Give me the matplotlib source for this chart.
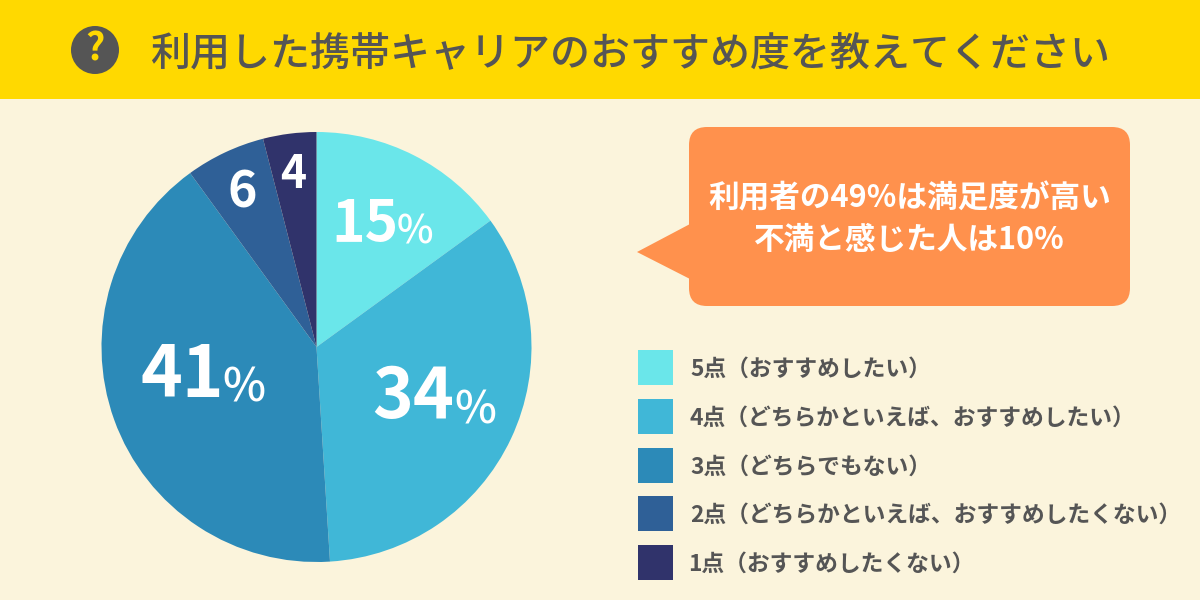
import matplotlib
matplotlib.use('Agg')
import matplotlib.pyplot as plt
from matplotlib.patches import Rectangle, FancyBboxPatch, Polygon, Circle

plt.rcParams['font.family'] = ['Noto Sans CJK JP', 'DejaVu Sans']

title = '利用した携帯キャリアのおすすめ度を教えてください'
note_lines = ['利用者の49%は満足度が高い', '不満と感じた人は10%']
values = [15, 34, 41, 6, 4]
labels = ['5点（おすすめしたい）',
          '4点（どちらかといえば、おすすめしたい）',
          '3点（どちらでもない）',
          '2点（どちらかといえば、おすすめしたくない）',
          '1点（おすすめしたくない）']
colors = ['#6ae6ea', '#40b7d7', '#2c8ab8', '#2f6097', '#30336b']

GREY = '#555555'
ORANGE = '#ff914d'

fig = plt.figure(figsize=(12, 6), dpi=100, facecolor='#fbf4dc')
ax = fig.add_axes([0, 0, 1, 1])


def yy(y):
    # picture y (from top) to axes y
    return 600 - y


ax.add_patch(Rectangle((0, yy(99)), 1200, 99, fc='#ffd900', ec='none'))
ax.add_patch(Circle((95, yy(50)), 24, fc=GREY, ec='none'))
ax.text(95, yy(49), '?', color='#ffd900', fontsize=27, fontweight='bold', ha='center', va='center')
ax.text(630, yy(54), title, color=GREY, fontsize=28.8, fontweight='medium', ha='center', va='center')

ax.pie(values, colors=colors, startangle=90, counterclock=False, radius=215,
       center=(316.5, yy(347)), frame=True, wedgeprops={'linewidth': 0})

# labels on the slices
pie_labels = [(331, 242, '15', 41, 397, 244, 28), (372, 418, '34', 50, 454, 424, 32),
              (141, 397, '41', 51, 222, 402, 33), (227, 207, '6', 36, None, None, 0),
              (280, 188, '4', 32, None, None, 0)]
for x, y, num, size, px, py, psize in pie_labels:
    ax.text(x, yy(y), num, color='white', fontsize=size, fontweight='bold', ha='left', va='baseline')
    if px is not None:
        ax.text(px, yy(py), '%', color='white', fontsize=psize, fontweight='medium', ha='left', va='baseline')

# callout
ax.add_patch(FancyBboxPatch((707, yy(288)), 405, 143, boxstyle='round,pad=18,rounding_size=18',
                            fc=ORANGE, ec='none'))
ax.add_patch(Polygon([(690, yy(224)), (637, yy(252)), (690, yy(279))], fc=ORANGE, ec='none'))
ax.text(910, yy(198), note_lines[0], color='white', fontsize=22.1, fontweight='bold', ha='center', va='center')
ax.text(909, yy(240), note_lines[1], color='white', fontsize=22.1, fontweight='bold', ha='center', va='center')

# legend
box_tops = [350, 399, 448, 496, 545]
text_x = [690, 690, 690, 690, 688]
for i, lab in enumerate(labels):
    ax.add_patch(Rectangle((638, yy(box_tops[i] + 35)), 35, 35, fc=colors[i], ec='none'))
    ax.text(text_x[i], yy(box_tops[i] + 19), lab, color=GREY, fontsize=16.4, fontweight='bold', ha='left', va='center')

ax.set_xlim(0, 1200)
ax.set_ylim(0, 600)
ax.set_aspect('auto')
ax.axis('off')
fig.savefig('out.png', dpi=100, facecolor=fig.get_facecolor())
